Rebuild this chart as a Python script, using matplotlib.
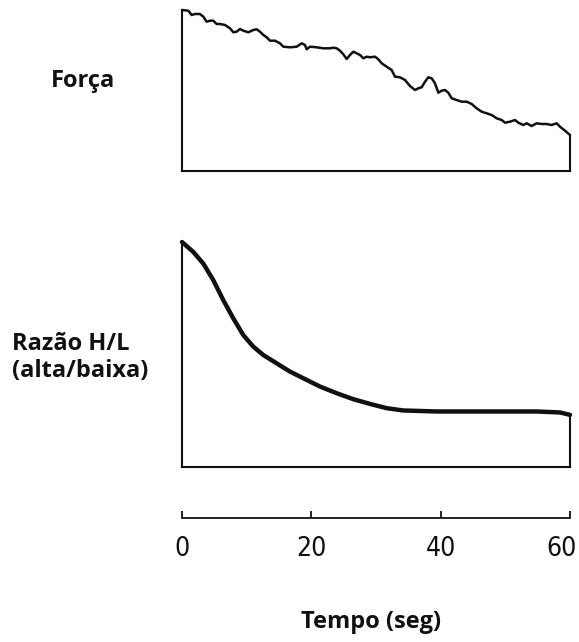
import numpy as np
import matplotlib
matplotlib.use("Agg")
import matplotlib.pyplot as plt
import matplotlib.transforms as mtransforms

# Force trace (arbitrary units, 0 = baseline) vs time in seconds
force_t = [0.0, 0.98, 1.49, 2.01, 2.78, 3.30, 3.81, 4.33, 4.84, 5.36, 5.88, 6.65,
           7.42, 7.94, 8.45, 8.97, 9.48, 10.26, 11.03, 11.55, 12.06, 12.58, 13.09,
           13.61, 14.38, 15.15, 15.67, 16.70, 17.73, 18.51, 19.02, 19.28, 19.79,
           20.83, 21.85, 22.89, 23.40, 23.92, 24.43, 24.95, 25.46, 25.98, 26.49,
           27.01, 27.53, 28.04, 28.56, 29.07, 29.85, 30.36, 30.88, 31.65, 32.42,
           32.94, 33.71, 34.48, 35.26, 36.03, 36.55, 37.06, 37.58, 38.09, 38.61,
           39.12, 39.64, 40.15, 40.67, 41.18, 41.70, 42.47, 43.25, 44.02, 44.79,
           45.57, 46.34, 47.11, 47.89, 48.66, 49.43, 49.95, 50.72, 51.49, 52.01,
           52.78, 53.30, 54.07, 54.85, 55.62, 56.39, 57.16, 57.94, 58.45, 59.23,
           60.0]
force_v = [161.0, 160.3, 156.0, 157.0, 157.0, 154.3, 149.3, 150.3, 150.3, 147.0,
           147.0, 146.0, 142.7, 138.7, 139.3, 142.0, 140.3, 138.7, 141.0, 141.7,
           139.3, 136.0, 133.7, 130.3, 130.3, 127.7, 124.3, 123.7, 124.3, 127.7,
           126.0, 121.7, 124.3, 123.7, 122.7, 122.7, 123.3, 122.7, 120.3, 116.7,
           112.0, 116.0, 119.3, 117.7, 116.0, 112.7, 114.3, 113.7, 114.3, 111.7,
           107.7, 104.3, 101.0, 94.3, 93.7, 91.0, 85.0, 81.0, 82.7, 83.7, 89.3,
           93.7, 92.7, 87.7, 78.3, 80.3, 81.0, 78.3, 72.7, 71.0, 69.3, 69.3, 67.0,
           62.7, 59.3, 57.7, 56.0, 52.7, 51.0, 48.3, 49.3, 51.0, 48.3, 46.0, 47.7,
           45.0, 47.7, 47.0, 47.0, 46.0, 47.7, 44.3, 40.3, 36.0]

# H/L ratio trace (arbitrary units)
ratio_t = [0.0, 1.75, 3.30, 4.85, 6.39, 7.94, 9.48, 11.03, 12.58, 14.64, 16.70,
           18.77, 21.34, 23.92, 26.50, 29.07, 31.65, 34.23, 39.38, 44.54, 49.69,
           54.85, 58.45, 60.0]
ratio_v = [225.7, 215.7, 204.0, 187.3, 167.3, 149.0, 132.3, 120.7, 112.3, 104.0,
           95.7, 89.0, 80.7, 74.0, 68.0, 63.3, 59.0, 56.7, 55.7, 55.7, 55.7, 55.7,
           54.7, 52.3]

time_ticks = [0, 20, 40, 60]

W, H = 579, 642
fig = plt.figure(figsize=(W / 100, H / 100), dpi=100)

def px_axes(x0, y0, x1, y1):
    # y0 is the top pixel row, y1 the bottom one
    return fig.add_axes([x0 / W, 1 - y1 / H, (x1 - x0) / W, (y1 - y0) / H])

ink = "#111111"
label_font = dict(family=["Open Sans", "DejaVu Sans"], fontweight="bold",
                  fontsize=17, color=ink)

def trace_panel(ax, t, v, lw):
    ax.plot(t, v, color=ink, lw=lw, solid_capstyle="round", clip_on=False)
    # closing edges: verticals at both ends and the baseline
    ax.plot([t[0], t[0]], [0, v[0]], color=ink, lw=1.5, clip_on=False)
    ax.plot([t[-1], t[-1]], [0, v[-1]], color=ink, lw=1.5, clip_on=False)
    ax.plot([t[0], t[-1]], [0, 0], color=ink, lw=1.5, clip_on=False)
    ax.set_xlim(0, 60)
    ax.set_ylim(0, max(v))
    ax.axis("off")

ax1 = px_axes(182, 10, 570, 171)
trace_panel(ax1, force_t, force_v, 1.8)

ax2 = px_axes(182, 242, 570, 467)
trace_panel(ax2, ratio_t, ratio_v, 3.2)

# time scale
ax3 = px_axes(182, 500, 570, 518)
ax3.set_xlim(0, 60)
for s in ["left", "right", "top"]:
    ax3.spines[s].set_visible(False)
ax3.spines["bottom"].set_linewidth(1.3)
ax3.spines["bottom"].set_color(ink)
ax3.set_yticks([])
ax3.set_xticks(time_ticks)
ax3.set_xticklabels([str(v) for v in time_ticks], family="DejaVu Sans",
                    fontstretch="condensed", fontsize=19)
ax3.tick_params(axis="x", direction="in", length=5, width=1.3, pad=13,
                colors=ink)
# keep the last label inside the figure
last = ax3.get_xticklabels()[-1]
last.set_horizontalalignment("right")
last.set_transform(last.get_transform() +
                   mtransforms.ScaledTranslation(0.07, 0, fig.dpi_scale_trans))
ax3.patch.set_visible(False)

fig.text(83 / W, 1 - 87 / H, "Força", ha="center", va="baseline", **label_font)
fig.text(12 / W, 1 - 350 / H, "Razão H/L", ha="left", va="baseline", **label_font)
fig.text(12 / W, 1 - 377 / H, "(alta/baixa)", ha="left", va="baseline", **label_font)
fig.text(371 / W, 1 - 628 / H, "Tempo (seg)", ha="center", va="baseline", **label_font)

fig.savefig("out.png", dpi=100)
